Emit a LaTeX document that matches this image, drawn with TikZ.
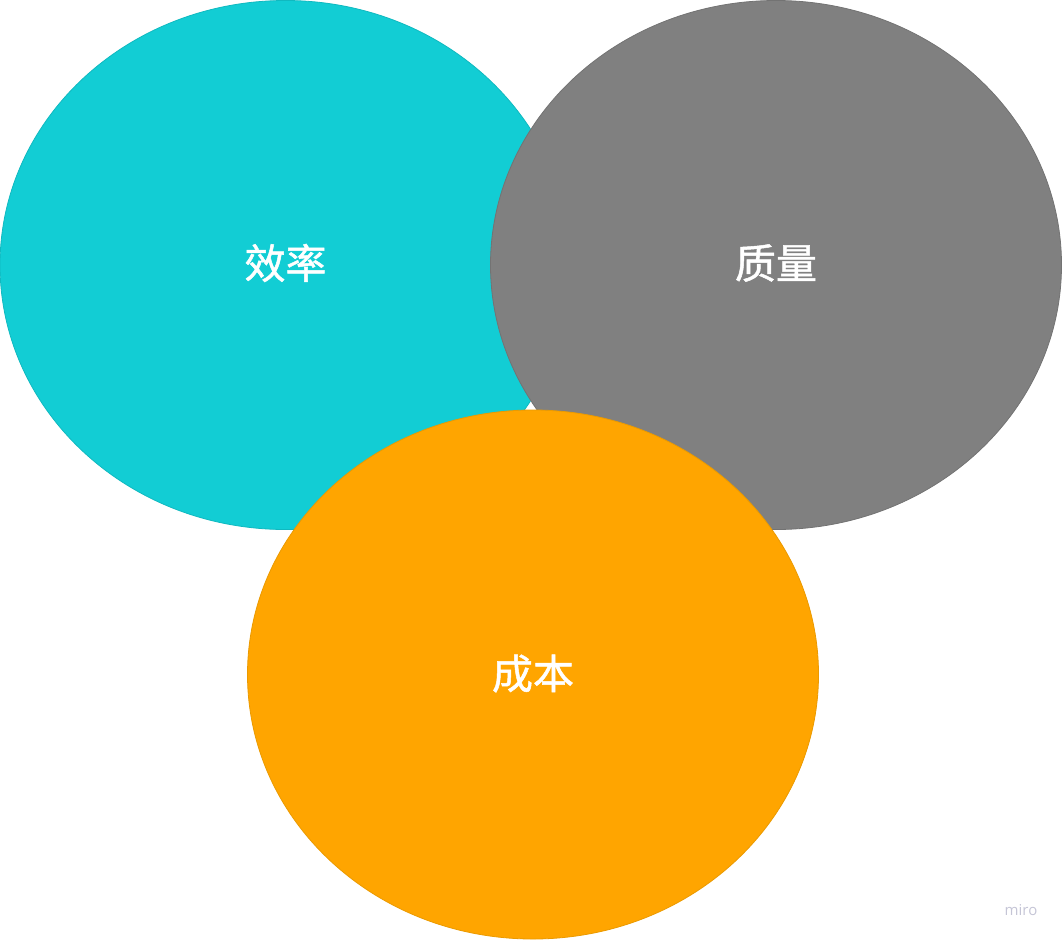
\documentclass[tikz,border=0pt]{standalone}
\usetikzlibrary{shapes.geometric}
\usepackage{fontspec}
\newfontfamily\cjk[FakeBold=1.2]{Noto Sans CJK SC}
\setsansfont{Open Sans}
\definecolor{cyanfill}{HTML}{12CDD4}
\definecolor{cyanline}{HTML}{10B9C0}
\definecolor{grayfill}{HTML}{808080}
\definecolor{grayline}{HTML}{737373}
\definecolor{orangefill}{HTML}{FFA500}
\definecolor{orangeline}{HTML}{EB9A00}
\definecolor{mirocol}{HTML}{C5C5D6}
\begin{document}
\begin{tikzpicture}[x=1pt,y=-1pt,
  blob/.style={ellipse, minimum width=571pt, minimum height=529pt, inner sep=0pt, line width=0.8pt},
  label/.style={text=white, font=\cjk\fontsize{41}{43}\selectfont}]
\useasboundingbox (0,0) rectangle (1062,940);
\node[blob, fill=cyanfill, draw=cyanline] (xl) at (285.5,265) {};
\node[blob, fill=grayfill, draw=grayline] (zl) at (776,265) {};
\node[blob, fill=orangefill, draw=orangeline] (cb) at (533,674.5) {};
\node[label] at ([yshift=2pt]xl) {效率};
\node[label] at ([yshift=2pt]zl) {质量};
\node[label] at ([yshift=1pt]cb) {成本};
\node[text=mirocol, font=\sffamily\fontsize{15}{17}\selectfont] (miro) at (1021,910) {miro};
\end{tikzpicture}
\end{document}
